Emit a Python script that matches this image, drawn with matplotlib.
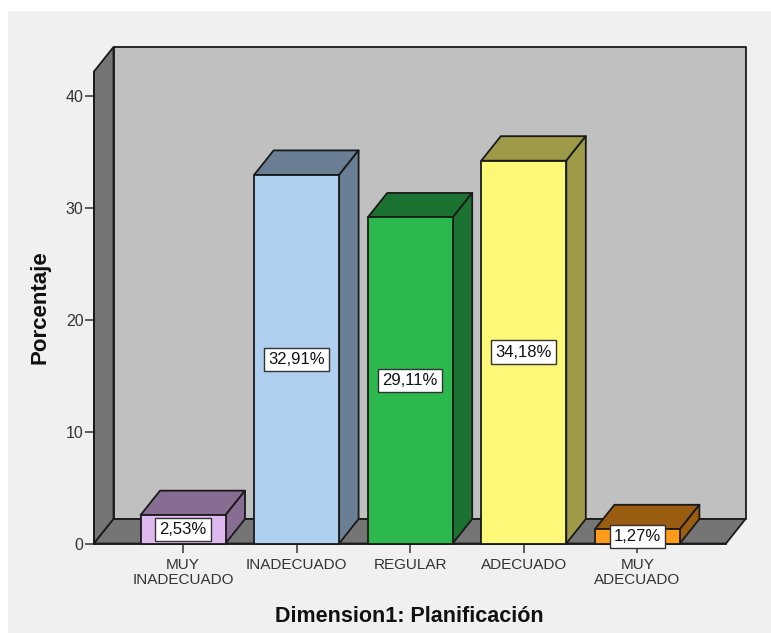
import matplotlib
matplotlib.use('Agg')
import matplotlib.pyplot as plt
from matplotlib.patches import Polygon, Rectangle

plt.rcParams['font.family'] = ['Liberation Sans', 'DejaVu Sans']

categories = ['MUY\nINADECUADO', 'INADECUADO', 'REGULAR', 'ADECUADO', 'MUY\nADECUADO']
values = [2.53, 32.91, 29.11, 34.18, 1.27]
labels = ['2,53%', '32,91%', '29,11%', '34,18%', '1,27%']
front_colors = ['#e0b8f0', '#aed0ee', '#2db84d', '#fdf877', '#ff9a1a']
top_colors = ['#876d91', '#6a7f94', '#1c7230', '#9d9a48', '#995c10']
y_ticks = [0, 10, 20, 30, 40]

W, H = 771, 633
EDGE = '#1a1a1a'

# box size in pixels
left_px, right_px = 94, 726
bottom_px, top_px = 543.5, 71.5
px_per_pct = 11.2
px_per_cat = 113.6
first_cat_px = 183

fig = plt.figure(figsize=(W / 100, H / 100), dpi=100, facecolor='white')
fig.patches.append(Rectangle((8 / W, 0), 1 - 8 / W, 1 - 11 / H, transform=fig.transFigure,
                             facecolor='#f0f0f0', edgecolor='none', zorder=-5))

ax = fig.add_axes([left_px / W, 1 - bottom_px / H, (right_px - left_px) / W, (bottom_px - top_px) / H])
ax.set_xlim((left_px - first_cat_px) / px_per_cat, (right_px - first_cat_px) / px_per_cat)
ax.set_ylim(0, (bottom_px - top_px) / px_per_pct)
ax.patch.set_visible(False)

# depth of the 3d effect in data units
dx = 19.5 / px_per_cat
dy = 24.5 / px_per_pct
x0, x1 = ax.get_xlim()
y0, y1 = ax.get_ylim()


def face(points, color, z, lw=1.3):
    ax.add_patch(Polygon(points, closed=True, facecolor=color, edgecolor=EDGE, linewidth=lw,
                         joinstyle='round', zorder=z, clip_on=False))


# walls and floor
face([(x0 + dx, y0 + dy), (x1 + dx, y0 + dy), (x1 + dx, y1 + dy), (x0 + dx, y1 + dy)], '#c0c0c0', 1)
face([(x0, y0), (x0 + dx, y0 + dy), (x0 + dx, y1 + dy), (x0, y1)], '#757575', 2)
face([(x0, y0), (x1, y0), (x1 + dx, y0 + dy), (x0 + dx, y0 + dy)], '#757575', 2)

# bars
bar_w = 85 / px_per_cat
for i, v in enumerate(values):
    a, b = i - bar_w / 2, i + bar_w / 2
    face([(a, v), (b, v), (b + dx, v + dy), (a + dx, v + dy)], top_colors[i], 3)
    face([(b, 0), (b + dx, dy), (b + dx, v + dy), (b, v)], top_colors[i], 3)
    face([(a, 0), (b, 0), (b, v), (a, v)], front_colors[i], 4)
    ax.text(i, v / 2, labels[i], ha='center', va='center', fontsize=12, color='#111111', zorder=6,
            bbox=dict(boxstyle='square,pad=0.25', facecolor='white', edgecolor='#333333', linewidth=1))

for side in ['top', 'right']:
    ax.spines[side].set_visible(False)
ax.spines['left'].set_color(EDGE)
ax.spines['left'].set_linewidth(1.3)
ax.spines['bottom'].set_color(EDGE)
ax.spines['bottom'].set_linewidth(1.3)

ax.set_xticks(range(len(categories)))
ax.set_xticklabels(categories, fontsize=11, color='#333333', linespacing=1.12)
ax.set_yticks(y_ticks)
ax.tick_params(axis='y', length=6.5, width=1.1, color='#333333', labelsize=11.5, labelcolor='#333333', pad=1)
ax.tick_params(axis='x', length=6.5, width=1.1, color='#333333', pad=4)

fig.text(409.5 / W, 1 - 616 / H, 'Dimension1: Planificación', ha='center', va='center',
         fontsize=15.5, fontweight='bold', color='#111111')
fig.text(40 / W, 1 - 307 / H, 'Porcentaje', ha='center', va='center', rotation=90,
         fontsize=16, fontweight='bold', color='#111111')

fig.savefig('out.png', dpi=100, facecolor=fig.get_facecolor())
